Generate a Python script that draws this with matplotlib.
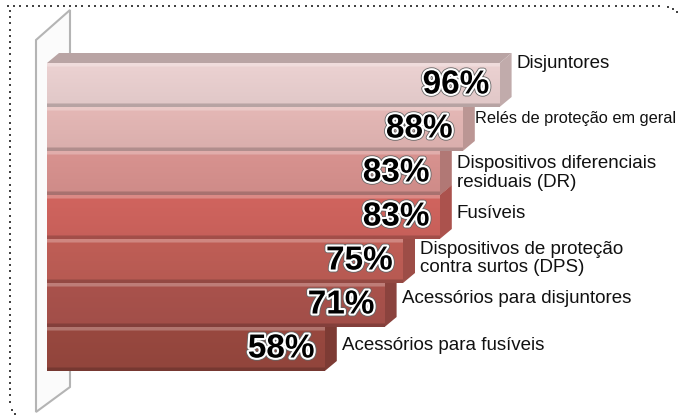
import numpy as np
import matplotlib
matplotlib.use("Agg")
import matplotlib.pyplot as plt
from matplotlib.patches import Polygon
import matplotlib.patheffects as pe
from matplotlib.colors import to_rgb

# ---- data ----
categories = [
    "Disjuntores",
    "Relés de proteção em geral",
    "Dispositivos diferenciais\nresiduais (DR)",
    "Fusíveis",
    "Dispositivos de proteção\ncontra surtos (DPS)",
    "Acessórios para disjuntores",
    "Acessórios para fusíveis",
]
values = [96, 88, 83, 83, 75, 71, 58]
value_labels = ["96%", "88%", "83%", "83%", "75%", "71%", "58%"]

# ---- style ----
bar_colors = ["#EBD1D1", "#E4B7B5", "#D8928F", "#D0645E", "#BF5E56", "#A9524C", "#98483F"]
label_dy = [-0.5, -0.25, 0.0, -0.09, -0.05, -0.14, -0.09]
W, H = 680, 416
PX_PER_X = 4.6      # pixels per percent
X0_PX = 58          # pixel position of 0%
Y0_PX = 85          # pixel centre of first bar
PX_PER_Y = 44       # bar pitch in pixels
DX = 12 / PX_PER_X  # depth
DY = -10 / PX_PER_Y
BASE = (47 - X0_PX) / PX_PER_X

fig = plt.figure(figsize=(W / 100, H / 100), dpi=100)

# decoration axes in pixel coords
deco = fig.add_axes([0, 0, 1, 1], zorder=0)
deco.set_xlim(0, W)
deco.set_ylim(H, 0)
deco.axis("off")

# dotted frame
xs = np.arange(8, 664, 6.2)
deco.scatter(xs, np.full_like(xs, 5.5), s=2.2, marker="s", color="#444444", lw=0)
deco.scatter([668, 672.5, 676.5], [6.5, 9, 12], s=2.2, marker="s", color="#444444", lw=0)
ys = np.arange(11, 406, 6.2)
deco.scatter(np.full_like(ys, 9.5), ys, s=2.2, marker="s", color="#444444", lw=0)
deco.scatter([11.5, 14.5], [409.5, 413.5], s=2.2, marker="s", color="#444444", lw=0)

# back wall
wall = Polygon([(36, 412), (36, 40), (70, 10), (70, 387)], closed=True,
               facecolor="#FBFBFB", edgecolor="#B4B4B4", lw=1.5)
deco.add_patch(wall)

# bars axes in data coords
ax = fig.add_axes([0, 0, 1, 1], zorder=1)
ax.patch.set_alpha(0)
ax.axis("off")


def shade(c, f):
    r, g, b = to_rgb(c)
    return (r * f, g * f, b * f)


def lighten(c, f):
    r, g, b = to_rgb(c)
    return (r + (1 - r) * f, g + (1 - g) * f, b + (1 - b) * f)


n = len(values)
for i in range(n - 1, -1, -1):
    v = values[i]
    c = bar_colors[i]
    z = 10 + (n - i) * 5
    top, bot = i - 0.5, i + 0.5
    # top face
    ax.add_patch(Polygon([(BASE, top), (BASE + DX, top + DY), (v + DX, top + DY), (v, top)],
                         closed=True, facecolor="#B9A4A4" if i == 0 else shade(c, 0.85),
                         edgecolor="none", zorder=z))
    # side face
    ax.add_patch(Polygon([(v, top), (v + DX, top + DY), (v + DX, bot + DY), (v, bot)],
                         closed=True, facecolor=shade(c, 0.82), edgecolor="none", zorder=z))
    # front face with vertical gradient
    grad = np.linspace(0, 1, 50)
    cols = []
    for t in grad:
        if t < 0.08:
            cols.append(lighten(c, 0.25))
        elif t > 0.93:
            cols.append(shade(c, 0.78))
        else:
            f = 1.0 - 0.05 * (t - 0.08)
            cols.append(shade(c, f))
    img = np.array(cols).reshape(50, 1, 3)
    ax.imshow(img, extent=(BASE, v, bot, top), aspect="auto", zorder=z + 1,
              interpolation="bilinear")
    # percentage label
    ax.text(v - 2.2, i, value_labels[i], ha="right", va="center",
            fontsize=24, fontweight="bold", color="black",
            family=["Liberation Sans", "DejaVu Sans"],
            zorder=100,
            path_effects=[pe.Stroke(linewidth=4.2, foreground="#666666"),
                          pe.Stroke(linewidth=3.0, foreground="white"),
                          pe.Normal()])
    # category label
    fs = 11.8 if i == 1 else 13.5
    xoff = 12 / PX_PER_X if i == 1 else 17 / PX_PER_X
    ax.text(v + xoff, i + label_dy[i], categories[i], ha="left", va="center",
            fontsize=fs, color="#111111", linespacing=1.1,
            family=["Liberation Sans", "DejaVu Sans"], zorder=100)

ax.set_xlim(-X0_PX / PX_PER_X, (W - X0_PX) / PX_PER_X)
ax.set_ylim((H - Y0_PX) / PX_PER_Y, -Y0_PX / PX_PER_Y)

fig.savefig("out.png", dpi=100)
